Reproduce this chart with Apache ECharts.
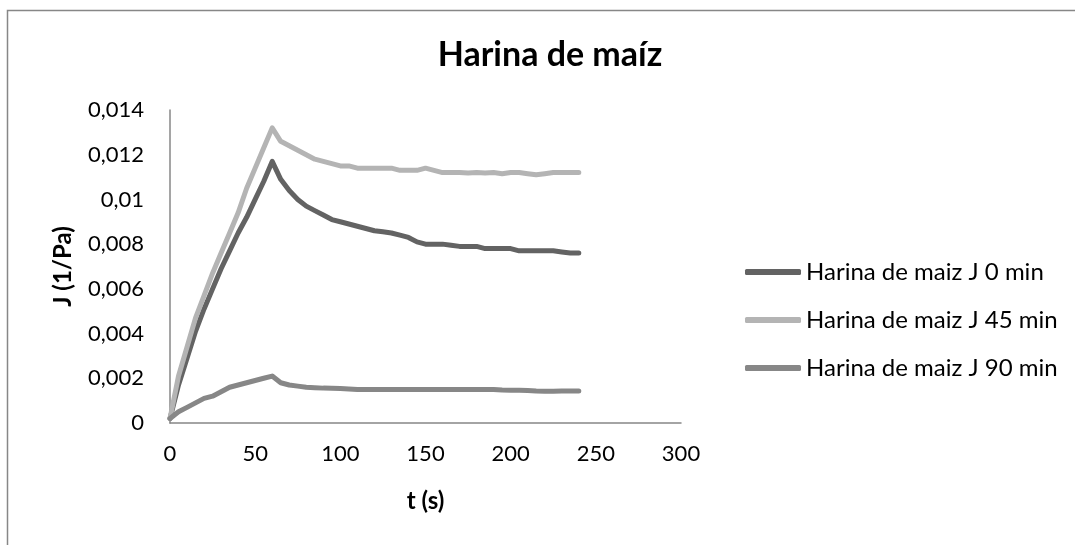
<!DOCTYPE html>
<html>
<head>
<meta charset="utf-8">
<title>Harina de maíz</title>
<script src="https://cdn.jsdelivr.net/npm/echarts@6/dist/echarts.min.js"></script>
<style>
  html, body { margin: 0; padding: 0; background: #fff; }
  #main { width: 1075px; height: 545px; }
</style>
</head>
<body>
<div id="main"></div>
<script>
// tiempo (s)
var tiempo = [0, 5, 10, 15, 20, 25, 30, 35, 40, 45, 50, 55, 60, 65, 70, 75, 80, 85, 90, 95,
  100, 105, 110, 115, 120, 125, 130, 135, 140, 145, 150, 155, 160, 165, 170, 175, 180, 185,
  190, 195, 200, 205, 210, 215, 220, 225, 230, 235, 240];

// J (1/Pa)
var j0min = [0.0002, 0.0017, 0.0029, 0.0041, 0.0051, 0.0060, 0.0069, 0.0077, 0.0085, 0.0092,
  0.0100, 0.0108, 0.0117, 0.0109, 0.0104, 0.0100, 0.0097, 0.0095, 0.0093, 0.0091,
  0.0090, 0.0089, 0.0088, 0.0087, 0.0086, 0.00855, 0.0085, 0.0084, 0.0083, 0.0081,
  0.0080, 0.0080, 0.0080, 0.00795, 0.0079, 0.0079, 0.0079, 0.0078, 0.0078, 0.0078,
  0.0078, 0.0077, 0.0077, 0.0077, 0.0077, 0.0077, 0.00765, 0.0076, 0.0076];

var j45min = [0.0002, 0.0021, 0.0034, 0.0047, 0.0057, 0.0067, 0.0076, 0.0085, 0.0094, 0.0105,
  0.0114, 0.0123, 0.0132, 0.0126, 0.0124, 0.0122, 0.0120, 0.0118, 0.0117, 0.0116,
  0.0115, 0.0115, 0.0114, 0.0114, 0.0114, 0.0114, 0.0114, 0.0113, 0.0113, 0.0113,
  0.0114, 0.0113, 0.0112, 0.0112, 0.0112, 0.01118, 0.0112, 0.01118, 0.0112, 0.01115,
  0.0112, 0.0112, 0.01115, 0.0111, 0.01115, 0.0112, 0.0112, 0.0112, 0.0112];

var j90min = [0.0002, 0.0005, 0.0007, 0.0009, 0.0011, 0.0012, 0.0014, 0.0016, 0.0017, 0.0018,
  0.0019, 0.0020, 0.0021, 0.0018, 0.0017, 0.00165, 0.0016, 0.00158, 0.00156, 0.00155,
  0.00154, 0.00152, 0.0015, 0.0015, 0.0015, 0.0015, 0.0015, 0.0015, 0.0015, 0.0015,
  0.0015, 0.0015, 0.0015, 0.0015, 0.0015, 0.0015, 0.0015, 0.0015, 0.0015, 0.00148,
  0.00147, 0.00146, 0.00145, 0.00143, 0.00142, 0.00142, 0.00143, 0.00143, 0.00143];

var nombres = ['Harina de maiz J 0 min', 'Harina de maiz J 45 min', 'Harina de maiz J 90 min'];
var colores = ['#636363', '#b4b4b4', '#878787'];

function pares(ys) {
  var out = [];
  for (var i = 0; i < tiempo.length; i++) {
    out.push([tiempo[i], ys[i]]);
  }
  return out;
}

function serie(nombre, ys, color) {
  return {
    name: nombre,
    type: 'line',
    data: pares(ys),
    showSymbol: false,
    smooth: false,
    lineStyle: { color: color, width: 5, cap: 'round', join: 'round' },
    itemStyle: { color: color }
  };
}

var fuente = 'Lato, "Open Sans", sans-serif';

var myChart = echarts.init(document.getElementById('main'));

var option = {
  backgroundColor: '#fff',
  animation: false,
  textStyle: { fontFamily: fuente },
  title: {
    text: 'Harina de maíz',
    left: 545,
    top: 33,
    textAlign: 'center',
    textStyle: { fontFamily: fuente, fontSize: 34, fontWeight: 'bold', color: '#000' }
  },
  legend: {
    orient: 'vertical',
    left: 740,
    top: 254,
    itemGap: 22,
    itemWidth: 56,
    itemHeight: 6,
    icon: 'roundRect',
    data: nombres,
    textStyle: { fontFamily: fuente, fontSize: 24, color: '#000', lineHeight: 26 }
  },
  graphic: [{
    type: 'polyline',
    shape: { points: [[7.5, 600], [7.5, 10.5], [1080, 10.5]] },
    style: { fill: 'none', stroke: '#878787', lineWidth: 1.5 },
    silent: true
  }],
  grid: { left: 170, right: 394, top: 110, bottom: 122 },
  xAxis: {
    type: 'value',
    min: 0,
    max: 300,
    interval: 50,
    name: 't (s)',
    nameLocation: 'middle',
    nameGap: 66,
    nameTextStyle: { fontFamily: fuente, fontSize: 24, fontWeight: 'bold', color: '#000' },
    axisLine: { lineStyle: { color: '#878787', width: 1.5 } },
    axisTick: { show: false },
    splitLine: { show: false },
    axisLabel: { fontSize: 22, color: '#000', margin: 20 }
  },
  yAxis: {
    type: 'value',
    min: 0,
    max: 0.014,
    interval: 0.002,
    name: 'J (1/Pa)',
    nameLocation: 'middle',
    nameGap: 95,
    nameRotate: 90,
    nameTextStyle: { fontFamily: fuente, fontSize: 24, fontWeight: 'bold', color: '#000' },
    axisLine: { show: true, lineStyle: { color: '#878787', width: 1.5 } },
    axisTick: { show: false },
    splitLine: { show: false },
    axisLabel: {
      fontSize: 22,
      color: '#000',
      margin: 26,
      formatter: function (v) {
        return String(+v.toFixed(3)).replace('.', ',');
      }
    }
  },
  series: [
    serie(nombres[0], j0min, colores[0]),
    serie(nombres[1], j45min, colores[1]),
    serie(nombres[2], j90min, colores[2])
  ]
};

myChart.setOption(option);
</script>
</body>
</html>
